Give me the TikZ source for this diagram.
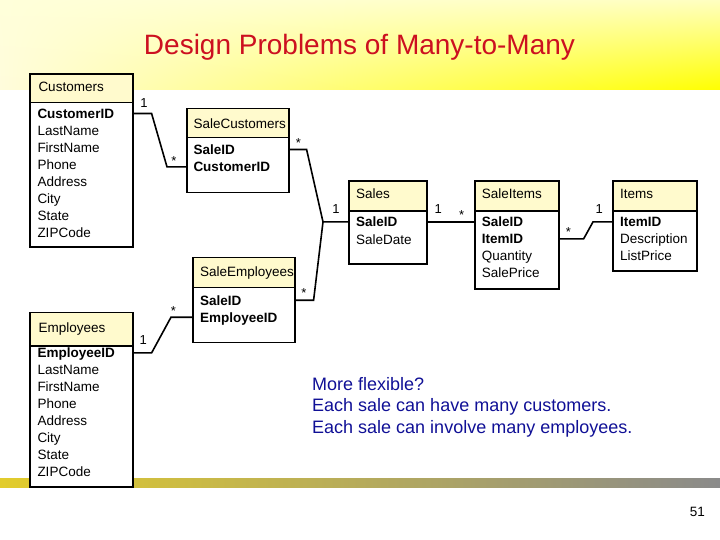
\documentclass[tikz,border=0pt]{standalone}
\usepackage{fontspec}
\setmainfont{Liberation Sans}
\usetikzlibrary{calc,shadings}
\definecolor{headfill}{RGB}{255,250,205}
\definecolor{titlered}{RGB}{204,16,32}
\definecolor{noteblue}{RGB}{16,16,150}
\definecolor{bandul}{RGB}{255,255,218}
\definecolor{bandur}{RGB}{255,255,192}
\definecolor{bandll}{RGB}{255,252,220}
\definecolor{bandlr}{RGB}{255,255,0}
\definecolor{barleft}{RGB}{226,204,44}
\definecolor{barmid}{RGB}{184,168,96}
\definecolor{barright}{RGB}{138,138,138}
\tikzset{
  tbl/.style={draw, line width=1.6pt, fill=white, anchor=north west, inner sep=0pt},
  tblhead/.style={draw, line width=1.6pt, fill=headfill, anchor=north west, inner sep=0pt},
  row/.style={anchor=base west, inner sep=0pt, text height=9.6pt, text depth=0pt, font=\fontsize{13.5}{17}\selectfont},
  link/.style={line width=1.6pt},
  mult/.style={anchor=base, inner sep=0pt, font=\fontsize{13}{15}\selectfont},
  note/.style={anchor=base west, inner sep=0pt, text=noteblue, font=\fontsize{18}{21.5}\selectfont}
}
\begin{document}
\begin{tikzpicture}[x=1pt,y=-1pt]
\useasboundingbox (0,0) rectangle (720,540);
\shade[upper left=bandul, upper right=bandur, lower left=bandll, lower right=bandlr] (0,0) rectangle (720,90);
\shade[left color=barleft, middle color=barmid, right color=barright] (0,478) rectangle (720,487);
\node[anchor=base, inner sep=0pt, text=titlered, font=\fontsize{28}{32}\selectfont] (title) at (359.5,55) {Design Problems of Many-to-Many};

\node[tbl, minimum width=103pt, minimum height=173pt] (cust) at (29,73) {};
\node[tblhead, minimum width=103pt, minimum height=28.7pt] (cust-h) at (29,73) {};
\node[row] (cust-t) at (38.3,91.7) {Customers};
\foreach \t [count=\i] in {{\bfseries CustomerID},LastName,FirstName,Phone,Address,City,State,ZIPCode}
  \node[row] (cust-\i) at (37.3,{118.3+17*(\i-1)}) {\t};

\node[tbl, minimum width=102pt, minimum height=84pt] (sc) at (186,107.7) {};
\node[tblhead, minimum width=102pt, minimum height=29pt] (sc-h) at (186,107.7) {};
\begin{scope}
\clip (sc-h.south west) rectangle ($(sc-h.north east)+(-0.8,0)$);
\node[row] (sc-t) at (193.3,129) {SaleCustomers};
\end{scope}
\foreach \t [count=\i] in {{\bfseries SaleID},{\bfseries CustomerID}}
  \node[row] (sc-\i) at (193.3,{154.3+17.4*(\i-1)}) {\t};

\node[tbl, minimum width=78pt, minimum height=83.3pt] (sales) at (348,180) {};
\node[tblhead, minimum width=78pt, minimum height=30pt] (sales-h) at (348,180) {};
\node[row] (sales-t) at (356,199) {Sales};
\foreach \t [count=\i] in {{\bfseries SaleID},SaleDate}
  \node[row] (sales-\i) at (356,{226.7+17.3*(\i-1)}) {\t};

\node[tbl, minimum width=84pt, minimum height=108pt] (si) at (474,180) {};
\node[tblhead, minimum width=84pt, minimum height=30pt] (si-h) at (474,180) {};
\node[row] (si-t) at (481.7,199) {SaleItems};
\foreach \t [count=\i] in {{\bfseries SaleID},{\bfseries ItemID},Quantity,SalePrice}
  \node[row] (si-\i) at (481.7,{226.7+17*(\i-1)}) {\t};

\node[tbl, minimum width=84pt, minimum height=90pt] (items) at (612,180) {};
\node[tblhead, minimum width=84pt, minimum height=30pt] (items-h) at (612,180) {};
\node[row] (items-t) at (620,199) {Items};
\foreach \t [count=\i] in {{\bfseries ItemID},Description,ListPrice}
  \node[row] (items-\i) at (620,{226.7+17*(\i-1)}) {\t};

\node[tbl, minimum width=102pt, minimum height=85pt] (se) at (192,256.7) {};
\node[tblhead, minimum width=102pt, minimum height=30pt] (se-h) at (192,256.7) {};
\begin{scope}
\clip (se-h.south west) rectangle ($(se-h.north east)+(-0.8,0)$);
\node[row] (se-t) at (200,276.7) {SaleEmployees};
\end{scope}
\foreach \t [count=\i] in {{\bfseries SaleID},{\bfseries EmployeeID}}
  \node[row] (se-\i) at (200,{305+17*(\i-1)}) {\t};

\node[tbl, minimum width=103pt, minimum height=174.3pt] (emp) at (29,311.7) {};
\node[tblhead, minimum width=103pt, minimum height=33.3pt] (emp-h) at (29,311.7) {};
\node[row] (emp-t) at (38.3,332.3) {Employees};
\foreach \t [count=\i] in {{\bfseries EmployeeID},LastName,FirstName,Phone,Address,City,State,ZIPCode}
  \node[row] (emp-\i) at (37.3,{357.7+17*(\i-1)}) {\t};

\coordinate (apex) at ($(sales.west |- sales-1)+(-25,0)$);
\draw[link] (cust.east |- cust-1) -- ++(18,0) -- ($(sc.west |- sc-2)+(-19,0)$) -- (sc.west |- sc-2);
\draw[link] (sc.east |- sc-1) -- ++(17,0) -- (apex) -- (sales.west |- sales-1);
\draw[link] (se.east |- se-1) -- ++(18,0) -- (apex);
\draw[link] (sales.east |- sales-1) -- (si.west |- si-1);
\draw[link] (si.east |- si-2) -- ++(24,0) -- ($(items.west |- items-1)+(-19,0)$) -- (items.west |- items-1);
\draw[link] (emp.east |- emp-1) -- ++(18,0) -- ($(se.west |- se-2)+(-21,0)$) -- (se.west |- se-2);

\foreach \x/\y/\t [count=\i] in {144/107.5/1, 174/165.5/*, 298.3/147.5/*, 336/213.5/1, 304/297.5/*,
    438.3/213.5/1, 461.7/220/*, 568.3/236.8/*, 599.3/213.5/1, 143.3/344.5/1, 173.3/315.8/*}
  \node[mult] (mult-\i) at (\x,\y) {\t};

\foreach \t [count=\i] in {More flexible?,Each sale can have many customers.,Each sale can involve many employees.}
  \node[note] (note-\i) at (312,{390+21.5*(\i-1)}) {\t};
\node[anchor=base east, inner sep=0pt, font=\fontsize{13.5}{15}\selectfont] (page) at (705,516) {51};
\end{tikzpicture}
\end{document}
